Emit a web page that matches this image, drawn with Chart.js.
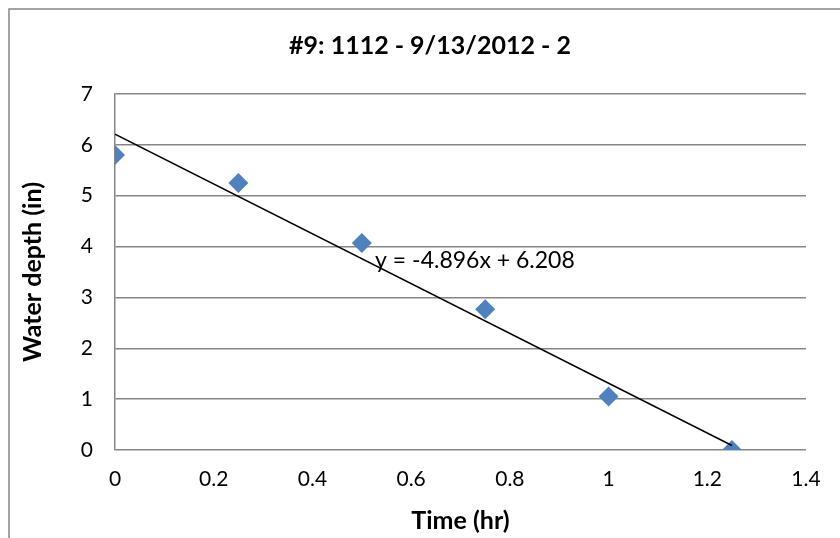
<!DOCTYPE html>
<html>
<head>
<meta charset="utf-8">
<script src="https://cdn.jsdelivr.net/npm/chart.js@4/dist/chart.umd.min.js"></script>
<style>
  html, body { margin: 0; padding: 0; background: #fff; }
  #wrap { width: 840px; height: 538px; }
</style>
</head>
<body>
<div id="wrap"><canvas id="chart" width="840" height="538"></canvas></div>
<script>
// measured points
const timeHr = [0, 0.25, 0.5, 0.75, 1.0, 1.25];
const depthIn = [5.8, 5.25, 4.07, 2.77, 1.05, 0];

// linear trendline shown on the chart
const trendX = [0, 1.25];
const trendY = [6.208, 0.088];
const trendLabel = 'y = -4.896x + 6.208';

const xTickLabels = ['0', '0.2', '0.4', '0.6', '0.8', '1', '1.2', '1.4'];
const yTickLabels = ['0', '1', '2', '3', '4', '5', '6', '7'];

const FONT = 'Lato, "Liberation Sans", sans-serif';
const GRID = '#868686';

const extras = {
  id: 'extras',
  beforeDraw(chart) {
    const ctx = chart.ctx;
    ctx.save();
    ctx.fillStyle = '#fff';
    ctx.fillRect(0, 0, chart.width, chart.height);
    ctx.strokeStyle = '#868686';
    ctx.lineWidth = 1.5;
    ctx.strokeRect(9, 9, 1000, 1000);
    ctx.restore();
  },
  afterDraw(chart) {
    const ctx = chart.ctx;
    const xs = chart.scales.x, ys = chart.scales.y;
    ctx.save();
    ctx.fillStyle = '#000';
    ctx.font = 'bold 25px ' + FONT;
    ctx.textAlign = 'center';
    ctx.textBaseline = 'middle';
    ctx.fillText('#9: 1112 - 9/13/2012 - 2', 430, 46);
    ctx.font = '23px ' + FONT;
    ctx.textAlign = 'left';
    ctx.fillText(trendLabel, xs.getPixelForValue(0.527), ys.getPixelForValue(3.72));
    ctx.restore();
  }
};

new Chart(document.getElementById('chart'), {
  type: 'scatter',
  data: {
    datasets: [
      {
        label: 'depth',
        data: timeHr.map((x, i) => ({ x: x, y: depthIn[i] })),
        pointStyle: 'rectRot',
        pointRadius: 10,
        pointBackgroundColor: '#4F81BD',
        pointBorderColor: '#4F81BD',
        pointBorderWidth: 0,
        order: 1
      },
      {
        label: 'trend',
        type: 'line',
        data: trendX.map((x, i) => ({ x: x, y: trendY[i] })),
        borderColor: '#000',
        borderWidth: 1.5,
        pointRadius: 0,
        fill: false,
        order: 0
      }
    ]
  },
  options: {
    responsive: false,
    animation: false,
    layout: { padding: { top: 94, right: 34, bottom: 0, left: 0 } },
    plugins: {
      legend: { display: false },
      tooltip: { enabled: false },
      title: { display: false }
    },
    scales: {
      x: {
        type: 'linear',
        min: 0,
        max: 1.4,
        ticks: {
          stepSize: 0.2,
          padding: 17,
          color: '#000',
          font: { family: FONT, size: 21 },
          callback: (v, i) => xTickLabels[i]
        },
        grid: { display: false, drawTicks: false },
        border: { display: false },
        title: {
          display: true,
          text: 'Time (hr)',
          color: '#000',
          font: { family: FONT, size: 25, weight: 'bold' },
          padding: { top: 0, bottom: 2 }
        },
        afterFit: s => { s.height = 88; }
      },
      y: {
        min: 0,
        max: 7,
        ticks: {
          stepSize: 1,
          padding: 22,
          color: '#000',
          font: { family: FONT, size: 21 },
          callback: (v, i) => yTickLabels[i]
        },
        grid: { color: GRID, lineWidth: 1.5, drawTicks: false },
        border: { display: true, color: GRID, width: 1.5 },
        title: {
          display: true,
          text: 'Water depth (in)',
          color: '#000',
          font: { family: FONT, size: 25, weight: 'bold' },
          padding: { top: 18, bottom: 0 }
        },
        afterFit: s => { s.width = 115; }
      }
    }
  },
  plugins: [extras]
});
</script>
</body>
</html>
